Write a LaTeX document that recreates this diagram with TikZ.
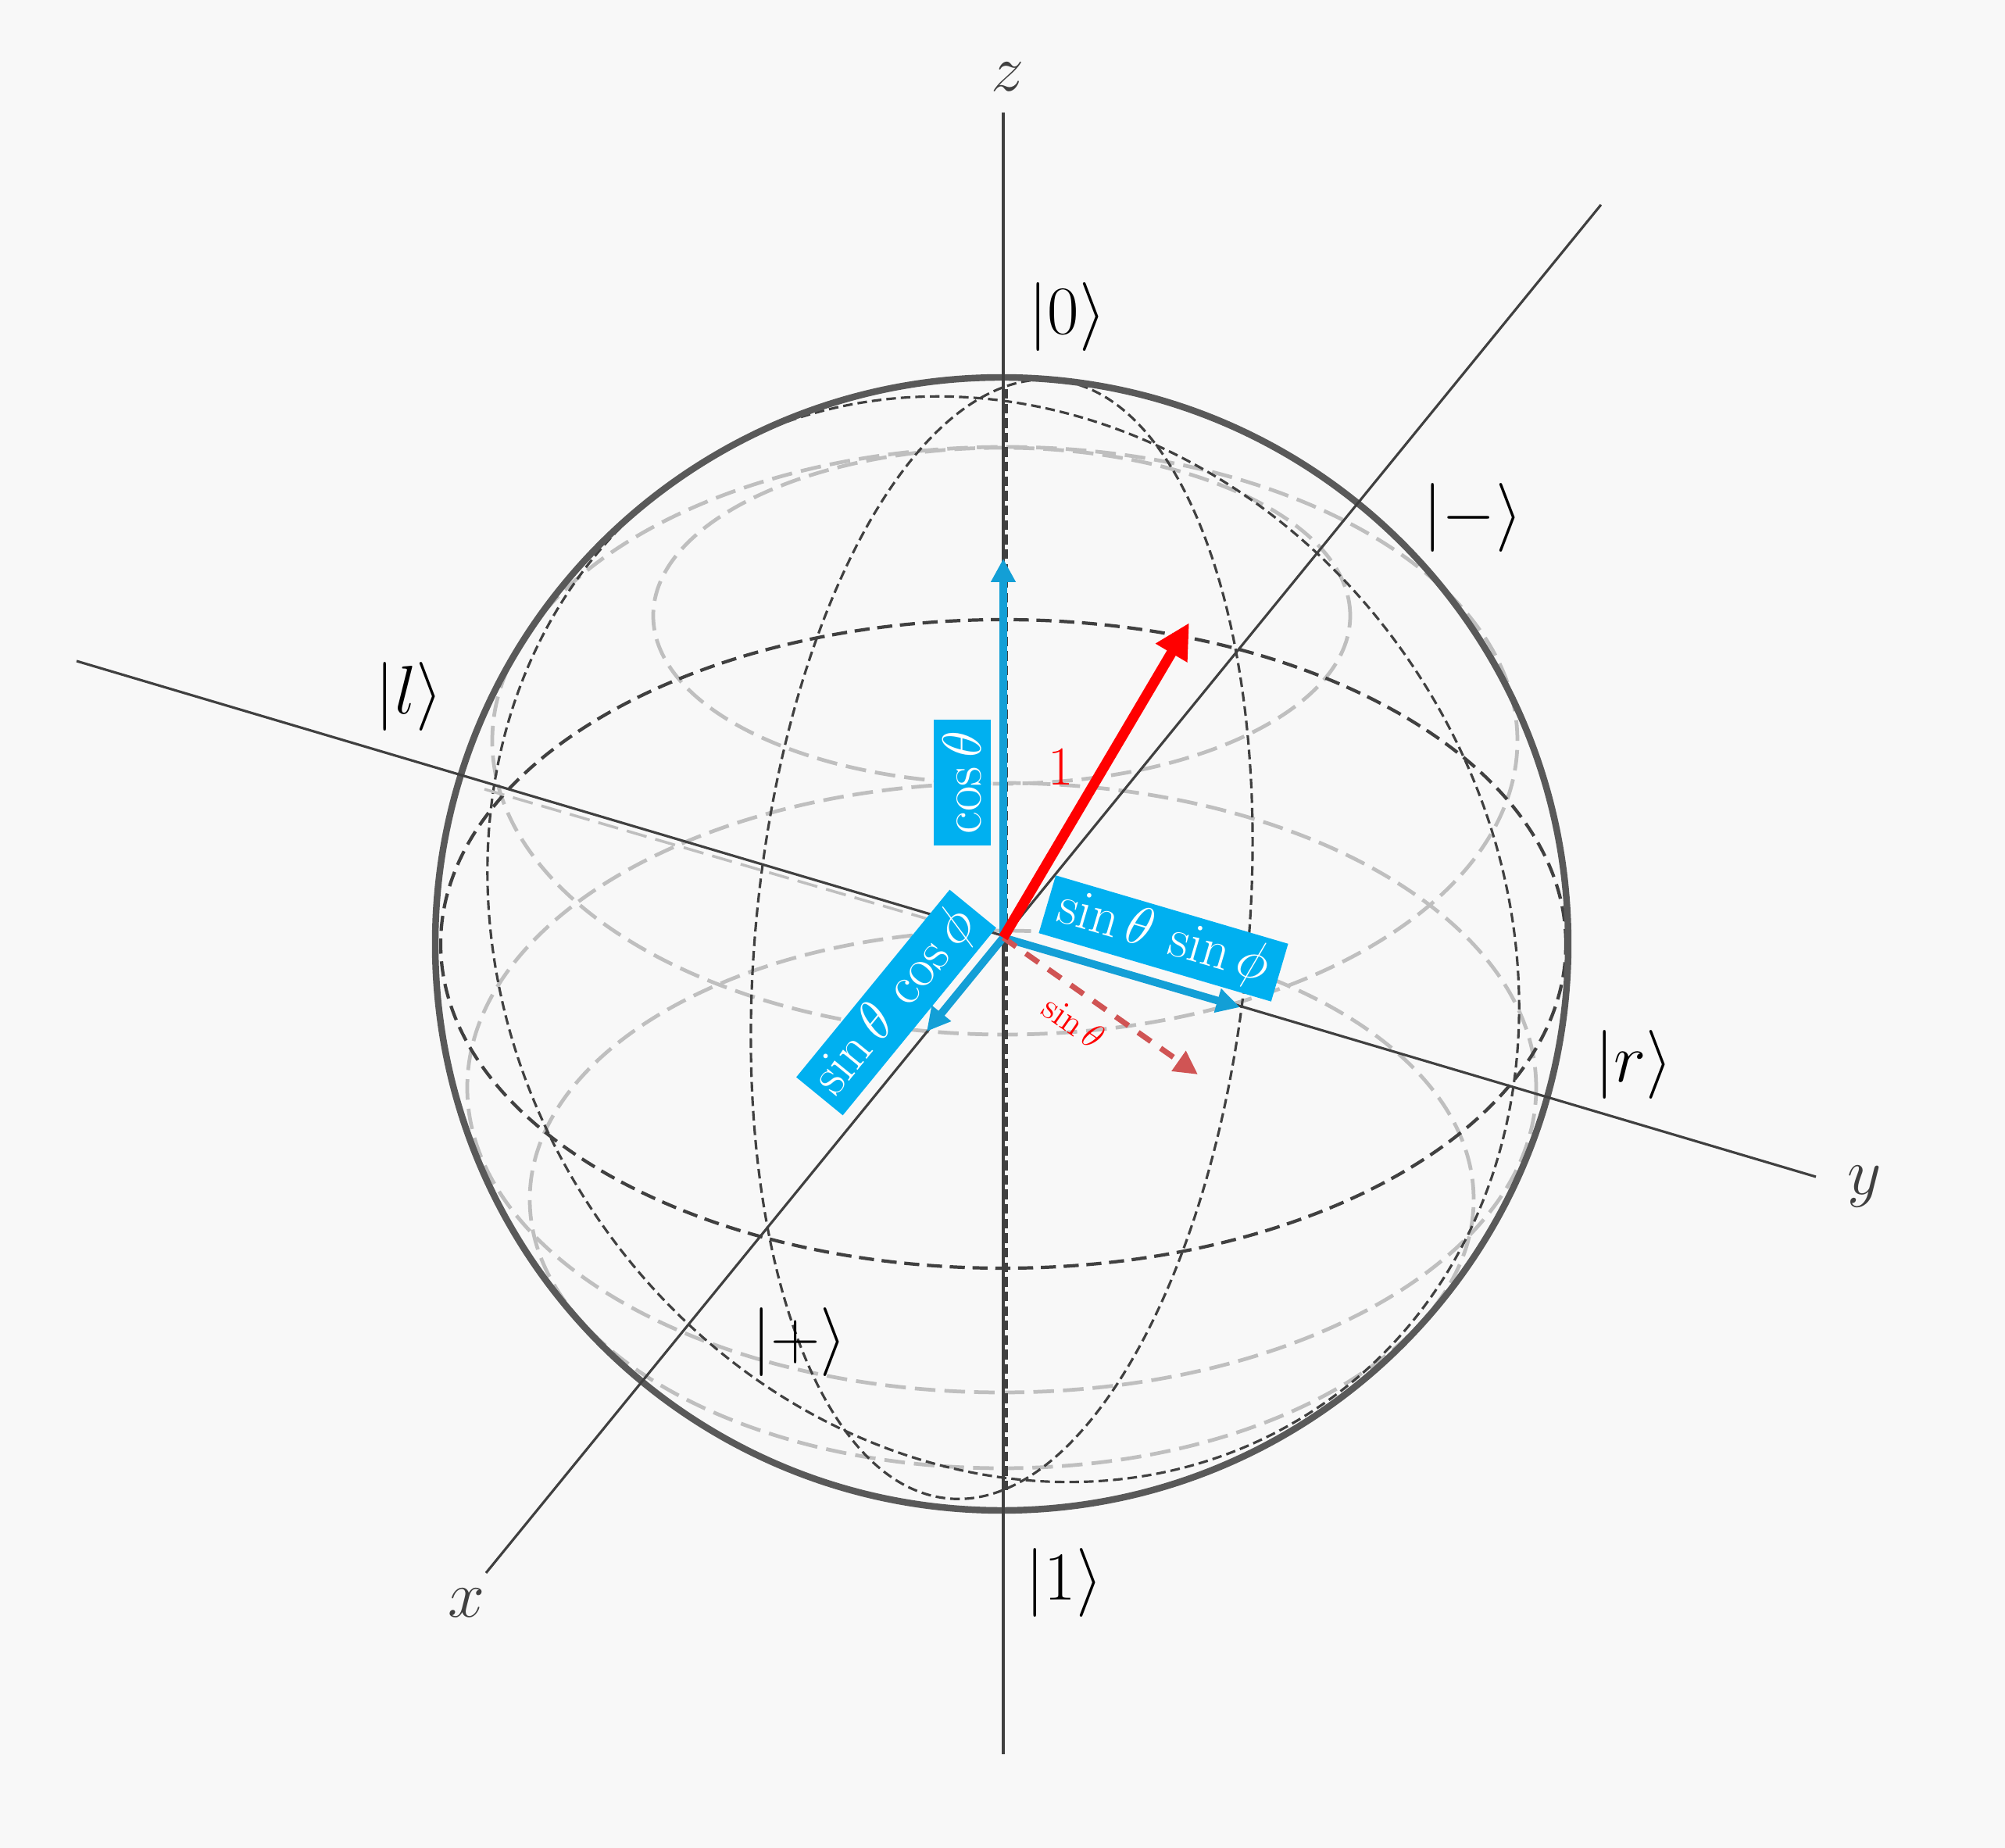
\documentclass[tikz,border=0pt]{standalone}
\usepackage{fix-cm}
\usepackage{xcolor}
\usepackage{tikz}
\usetikzlibrary{arrows.meta}
\usepackage{amsmath}
\usepackage{amssymb}

\definecolor{paperbg}{HTML}{F8F8F8}
\definecolor{axisgray}{HTML}{404040}
\definecolor{rimgray}{HTML}{595959}
\definecolor{ringgray}{HTML}{BFBFBF}
\definecolor{boxblue}{HTML}{00B0F0}
\definecolor{arrowblue}{HTML}{139FD6}
\definecolor{dashred}{HTML}{D05454}

\tikzset{
  axisline/.style={draw=axisgray, line width=0.9pt},
  greatcircle/.style={draw=axisgray, line width=0.9pt, dash pattern=on 3.5pt off 1.8pt},
  equatorline/.style={draw=axisgray, line width=1.2pt, dash pattern=on 5.5pt off 2.8pt},
  smallcircle/.style={draw=ringgray, line width=1.35pt, dash pattern=on 7.5pt off 3.3pt},
  ketlabel/.style={font=\fontsize{25}{30}\selectfont, inner sep=0pt},
  axislabel/.style={font=\fontsize{24}{28}\selectfont, text=axisgray, inner sep=0pt},
  compbox/.style={fill=boxblue, text=white, font=\fontsize{20}{24}\selectfont,
    inner sep=0pt, minimum width=3.1cm, minimum height=0.77cm},
  comparrow/.style={draw=arrowblue, line width=2.8pt, -{Triangle[length=0.30cm, width=0.30cm]}},
}

\begin{document}
\begin{tikzpicture}
    \fill[paperbg] (-12.82,-11.57) rectangle (12.84,12.08);

    \draw[smallcircle] (0,4.20) ellipse [x radius=4.46, y radius=2.15];
    \draw[smallcircle] (0.04,2.60) ellipse [x radius=6.56, y radius=3.76];
    \draw[smallcircle] (0,-1.84) ellipse [x radius=6.84, y radius=3.90];
    \draw[smallcircle] (0,-3.27) ellipse [x radius=6.04, y radius=3.44];

    \draw[equatorline] (0.02,0) ellipse [x radius=7.20, y radius=4.15];
    \draw[greatcircle, rotate around={-5.5:(0,0.06)}] (0,0.06) ellipse [x radius=3.15, y radius=7.19];
    \draw[greatcircle, rotate around={124:(0.02,0.06)}] (0.02,0.06) ellipse [x radius=7.22, y radius=6.30];
    \draw[greatcircle] (0.06,7.10) -- (0.06,-7.05);
    \draw[smallcircle, line width=1pt] (-6.62,1.98) -- (-0.30,0.13);
    \draw[rimgray, line width=2.4pt] (0,0) circle (7.25);

    \coordinate (O) at (0.02,0.08);
    \coordinate (zTop) at (0.02,10.64);
    \coordinate (zBot) at (0.02,-10.37);
    \coordinate (xBack) at (7.67,9.46);
    \coordinate (xFront) at (-6.60,-8.05);
    \coordinate (yLeft) at (-11.84,3.62);
    \coordinate (yRight) at (10.42,-2.98);
    \draw[axisline] (zBot) -- (zTop);
    \draw[axisline] (xFront) -- (xBack);
    \draw[axisline] (yLeft) -- (yRight);

    \node[axislabel] (zlab) at (0.08,11.10) {$z$};
    \node[axislabel] (xlab) at (-6.85,-8.43) {$x$};
    \node[axislabel] (ylab) at (11.04,-3.11) {$y$};
    \node[ketlabel] (ketzero) at (0.84,8.02) {$|0\rangle$};
    \node[ketlabel] (ketone) at (0.80,-8.18) {$|1\rangle$};
    \node[ketlabel] (ketminus) at (6.03,5.45) {$|-\rangle$};
    \node[ketlabel] (ketplus) at (-2.59,-5.10) {$|+\rangle$};
    \node[ketlabel] (ketl) at (-7.58,3.16) {$|l\rangle$};
    \node[ketlabel] (ketr) at (8.09,-1.55) {$|r\rangle$};

    \node[compbox, minimum width=1.61cm, minimum height=0.73cm, rotate=90] (cosbox) at (-0.505,2.065) {$\cos\theta$};
    \node[compbox, rotate=-16.4] (sinsinbox) at (2.07,0.07) {$\sin\theta\,\sin\phi$};
    \node[compbox, rotate=50.7] (sincosbox) at (-1.35,-0.75) {$\sin\theta\,\cos\phi$};

    \coordinate (cosTip) at (0.02,4.93);
    \coordinate (sincosTip) at (-0.96,-1.12);
    \coordinate (sinsinTip) at (3.05,-0.81);
    \coordinate (stateTip) at (2.40,4.11);
    \coordinate (shadowTip) at (2.51,-1.67);
    \draw[comparrow] (O) -- (cosTip);
    \draw[comparrow] (O) -- (sincosTip);
    \draw[comparrow] (O) -- (sinsinTip);
    \draw[dashred, line width=2pt, dash pattern=on 5.7pt off 4.3pt,
      -{Triangle[length=0.30cm, width=0.30cm]}] (O) -- (shadowTip);
    \draw[red, line width=3.7pt, -{Triangle[length=0.45cm, width=0.44cm]}] (O) -- (stateTip);

    \node[text=red, font=\fontsize{20}{24}\selectfont] (onelab) at (0.76,2.26) {$1$};
    \node[text=red, font=\fontsize{13}{15}\selectfont, rotate=-35] (sinlab) at (0.92,-1.00) {$\sin\theta$};
\end{tikzpicture}
\end{document}
